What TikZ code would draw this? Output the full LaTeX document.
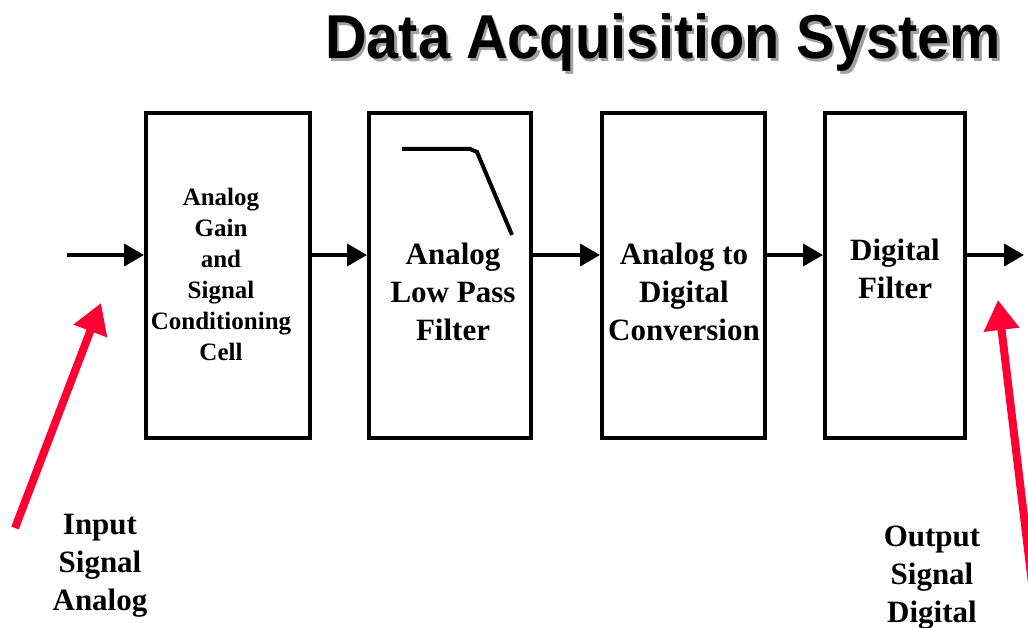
\documentclass[tikz,border=0pt]{standalone}
\usepackage{fontspec}
\setmainfont{Liberation Serif}
\newfontfamily\headfont{Liberation Sans}
\usetikzlibrary{arrows.meta}
\definecolor{pointer}{RGB}{255,0,51}
\definecolor{shade}{RGB}{160,160,160}
\tikzset{
  blk/.style={draw, line width=4pt, rectangle, inner sep=0pt},
  flow/.style={line width=4pt, -{Triangle[length=20pt,width=22pt]}},
  callout/.style={draw=pointer, line width=8pt, -{Triangle[length=30pt,width=34pt]}, color=pointer},
  small/.style={font=\fontsize{25}{31}\selectfont\bfseries, align=center, inner sep=0pt, anchor=base},
  big/.style={font=\fontsize{31}{38}\selectfont\bfseries, align=center, inner sep=0pt, anchor=base},
  head/.style={font=\headfont\fontsize{62}{62}\selectfont\bfseries, inner sep=0pt, anchor=base west, xscale=0.93}
}
\begin{document}
\begin{tikzpicture}[x=1pt,y=-1pt]
\useasboundingbox (0,0) rectangle (1028,628);
\fill[white] (0,0) rectangle (1028,628);

% title with drop shadow
\node[head, text=shade] (titleshadow) at (327.5,61.5) {Data Acquisition System};
\node[head] (title) at (325,59) {Data Acquisition System};

% processing blocks
\node[blk, minimum width=164pt, minimum height=325pt] (gain) at (228,275.5) {};
\node[blk, minimum width=162pt, minimum height=325pt] (lpf) at (450,275.5) {};
\node[blk, minimum width=163pt, minimum height=325pt] (adc) at (683.5,275.5) {};
\node[blk, minimum width=140pt, minimum height=325pt] (dfilt) at (895,275.5) {};

% block captions (anchored at the baseline of the last line)
\node[small] (gaintext) at (221,360) {Analog\\Gain\\and\\Signal\\Conditioning\\Cell};
\node[big] (lpftext) at (453,341) {Analog\\Low Pass\\Filter};
\node[big] (adctext) at (684,341) {Analog to\\Digital\\Conversion};
\node[big] (dfilttext) at (895,299) {Digital\\Filter};

% low pass response sketch
\draw[line width=4pt] (402,149) -- (470,149) -- (477,152) -- (512,235);

% signal path
\coordinate (sigin) at (67,255);
\coordinate (sigout) at (1024,255);
\draw[flow] (sigin) -- (gain.west |- sigin);
\draw[flow] (gain.east |- sigin) -- (lpf.west |- sigin);
\draw[flow] (lpf.east |- sigin) -- (adc.west |- sigin);
\draw[flow] (adc.east |- sigin) -- (dfilt.west |- sigin);
\draw[flow] (dfilt.east |- sigin) -- (sigout);

% input / output notes
\node[big] (inlabel) at (100,610) {Input\\Signal\\Analog};
\node[big] (outlabel) at (932,622) {Output\\Signal\\Digital};

% red pointers
\coordinate (inptail) at (15,528);
\coordinate (inptip) at (101,303);
\coordinate (outptail) at (1034,600);
\coordinate (outptip) at (998,300);
\begin{scope}
\clip (0,0) rectangle (1028,628);
\draw[callout] (inptail) -- (inptip);
\draw[callout] (outptail) -- (outptip);
\end{scope}
\end{tikzpicture}
\end{document}
